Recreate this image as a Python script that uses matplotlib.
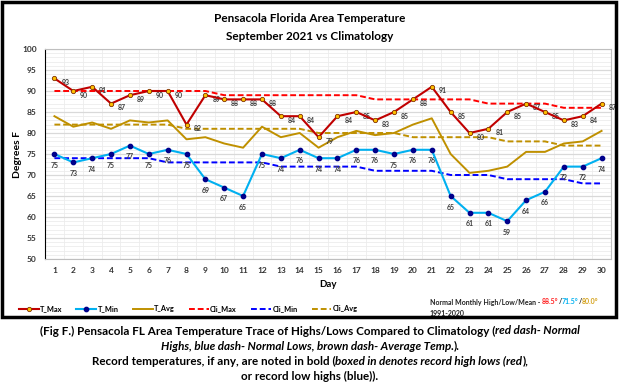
import matplotlib.pyplot as plt
from matplotlib.patches import Rectangle
from matplotlib.ticker import MultipleLocator
import numpy as np

days = list(range(1, 31))
t_max = [93, 90, 91, 87, 89, 90, 90, 82, 89, 88, 88, 88, 84, 84, 79,
         84, 85, 83, 85, 88, 91, 85, 80, 81, 85, 87, 85, 83, 84, 87]
t_min = [75, 73, 74, 75, 77, 75, 76, 75, 69, 67, 65, 75, 74, 76, 74,
         74, 76, 76, 75, 76, 76, 65, 61, 61, 59, 64, 66, 72, 72, 74]
t_avg = [84, 81.5, 82.5, 81, 83, 82.5, 83, 78.5, 79, 77.5, 76.5, 81.5, 79, 80, 76.5,
         79, 80.5, 79.5, 80, 82, 83.5, 75, 70.5, 71, 72, 75.5, 75.5, 77.5, 78, 80.5]
cli_max = [90] * 9 + [89] * 8 + [88] * 6 + [87] * 4 + [86] * 3
cli_min = [74] * 6 + [73] * 6 + [72] * 5 + [71] * 4 + [70] * 3 + [69] * 4 + [68] * 2
cli_avg = [82] * 7 + [81] * 7 + [80] * 5 + [79] * 5 + [78] * 3 + [77] * 3

normals = [("88.5°", "#ff2020"), ("71.5°", "#00b0f0"), ("80.0°", "#d4a017")]

plt.rcParams["font.family"] = ["Lato", "DejaVu Sans"]

C_MAX = "#c00000"
C_MIN = "#00b0f0"
C_AVG = "#bf9000"

fig = plt.figure(figsize=(6.2, 3.86), dpi=100)
ax = fig.add_axes([45 / 620, 1 - 259 / 386, 566 / 620, 210 / 386])

ax.plot(days, cli_max, color="#ff0000", ls=(0, (3, 1.5)), lw=1.4, label="Cli_Max", zorder=2)
ax.plot(days, cli_min, color="#0000ff", ls=(0, (3, 1.5)), lw=1.4, label="Cli_Min", zorder=2)
ax.plot(days, cli_avg, color=C_AVG, ls=(0, (3, 1.5)), lw=1.4, label="Cli_Avg", zorder=2)
ax.plot(days, t_avg, color=C_AVG, lw=1.4, label="T_Avg", zorder=3)
ax.plot(days, t_max, color=C_MAX, lw=1.5, marker="o", ms=3.1, mfc="#ffc000", mec="#7f3000",
        mew=0.6, label="T_Max", zorder=4)
ax.plot(days, t_min, color=C_MIN, lw=1.5, marker="o", ms=3.1, mfc="#00008b", mec="#00008b",
        label="T_Min", zorder=4)

for d, v in zip(days, t_max):
    ax.annotate(str(v), (d, v), xytext=(5, -3), textcoords="offset points", fontsize=5,
                fontweight="bold", color="#404040", va="center", ha="left")
for d, v in zip(days, t_min):
    ax.annotate(str(v), (d, v), xytext=(0, -8), textcoords="offset points", fontsize=5,
                fontweight="bold", color="#404040", va="center", ha="center")

ax.set_xlim(0.5, 30.5)
ax.set_ylim(50, 100)
ax.set_xticks(days)
ax.yaxis.set_major_locator(MultipleLocator(5))
ax.yaxis.set_minor_locator(MultipleLocator(1))
ax.xaxis.set_minor_locator(MultipleLocator(0.5))
ax.grid(which="major", axis="y", color="#d9d9d9", lw=0.9)
ax.grid(which="minor", axis="y", color="#ececec", lw=0.6)
ax.grid(which="minor", axis="x", color="#ececec", lw=0.6)
ax.set_axisbelow(True)
ax.tick_params(which="both", length=0)
ax.tick_params(axis="both", labelsize=6, pad=6)
for lbl in ax.get_xticklabels() + ax.get_yticklabels():
    lbl.set_fontweight("bold")
    lbl.set_color("#333333")
ax.spines["left"].set_color("black")
ax.spines["bottom"].set_color("#bfbfbf")
ax.spines["top"].set_color("#bfbfbf")
ax.spines["right"].set_color("#bfbfbf")
ax.set_xlabel("Day", fontsize=7, fontweight="bold", labelpad=4)

fig.text(17 / 620, 1 - 155 / 386, "Degrees F", rotation=90, ha="center", va="center",
         fontsize=7.5, fontweight="bold")
fig.text(0.5, 1 - 19 / 386, "Pensacola Florida Area Temperature", ha="center", va="center",
         fontsize=8.5, fontweight="bold")
fig.text(0.5, 1 - 36 / 386, "September 2021 vs Climatology", ha="center", va="center",
         fontsize=8.5, fontweight="bold")

handles, labels = ax.get_legend_handles_labels()
order = ["T_Max", "T_Min", "T_Avg", "Cli_Max", "Cli_Min", "Cli_Avg"]
hmap = dict(zip(labels, handles))
leg = fig.legend([hmap[k] for k in order], order, loc="center left",
                 bbox_to_anchor=(12 / 620, 1 - 309 / 386), ncol=6, frameon=False,
                 prop={"size": 5.3, "weight": "bold"}, handlelength=2.7, handletextpad=0.2,
                 columnspacing=1.9)

fig.canvas.draw()
renderer = fig.canvas.get_renderer()


def draw_segments(x, y, segments, size, center=False):
    # segments: list of (text, color, style)
    objs = []
    for s, color, style in segments:
        t = fig.text(0, y, s, fontsize=size, color=color, fontweight="bold",
                     fontstyle=style, va="center", ha="left")
        objs.append(t)
    widths = [o.get_window_extent(renderer).width / fig.bbox.width for o in objs]
    total = sum(widths)
    pos = x - total / 2 if center else x
    for o, w in zip(objs, widths):
        o.set_x(pos)
        pos += w


segs = [("Normal Monthly High/Low/Mean - ", "#222222", "normal")]
for i, (val, col) in enumerate(normals):
    segs.append((val, col, "normal"))
    if i < len(normals) - 1:
        segs.append(("/", "#222222", "normal"))
draw_segments(430 / 620, 1 - 302 / 386, segs, 5)
fig.text(430 / 620, 1 - 314 / 386, "1991-2020", fontsize=5, fontweight="bold",
         color="#222222", va="center", ha="left")

cap = 8.4
draw_segments(0.5, 1 - 331 / 386, [
    ("(Fig F.) Pensacola FL Area Temperature Trace of Highs/Lows Compared to Climatology (", "black", "normal"),
    ("red dash- Normal", "black", "italic")], cap, center=True)
draw_segments(0.5, 1 - 346 / 386, [
    ("Highs, blue dash- Normal Lows, brown dash- Average Temp.", "black", "italic"),
    (").", "black", "normal")], cap, center=True)
draw_segments(0.5, 1 - 361 / 386, [
    ("Record temperatures, if any, are noted in bold (", "black", "normal"),
    ("boxed in denotes record high lows (red", "black", "italic"),
    ("),", "black", "normal")], cap, center=True)
draw_segments(0.5, 1 - 376 / 386, [
    ("or record low highs (blue)).", "black", "normal")], cap, center=True)

fig.patches.append(Rectangle((2 / 620, 1 - 317 / 386), 614 / 620, 315 / 386,
                             transform=fig.transFigure, fill=False, ec="black", lw=2.5))

fig.savefig("out.png", dpi=100)
